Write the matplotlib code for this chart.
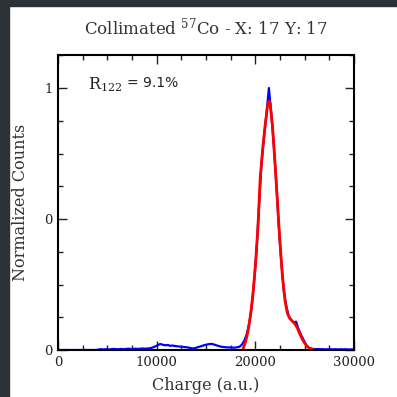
import matplotlib
matplotlib.use('Agg')
import matplotlib.pyplot as plt
from matplotlib.patches import Rectangle
from matplotlib.ticker import MultipleLocator, FormatStrFormatter
import numpy as np

# measured spectrum, 250 a.u. bins (bin centres)
bin_width = 250
charge = np.arange(125, 30000, bin_width)
counts = [
    0.0, 0.0, 0.0, 0.0, 0.0, 0.0, 0.0, 0.0,                      # 0 - 2000
    0.0, 0.0, 0.0, 0.0, 0.0, 0.0, 0.0, 0.0,                      # 2000 - 4000
    0.002, 0.003, 0.002, 0.003, 0.002, 0.003, 0.004, 0.003,      # 4000 - 6000
    0.003, 0.004, 0.003, 0.004, 0.005, 0.004, 0.004, 0.005,      # 6000 - 8000
    0.004, 0.005, 0.006, 0.005, 0.006, 0.007, 0.010, 0.014,      # 8000 - 10000
    0.019, 0.023, 0.020, 0.018, 0.019, 0.016, 0.017, 0.015,      # 10000 - 12000
    0.014, 0.013, 0.012, 0.011, 0.010, 0.008, 0.006, 0.007,      # 12000 - 14000
    0.010, 0.013, 0.016, 0.019, 0.021, 0.023, 0.023, 0.020,      # 14000 - 16000
    0.017, 0.014, 0.012, 0.011, 0.010, 0.010, 0.009, 0.009,      # 16000 - 18000
    0.010, 0.012, 0.020, 0.035, 0.060, 0.100, 0.160, 0.260,      # 18000 - 20000
    0.380, 0.550, 0.710, 0.810, 0.900, 1.000, 0.900, 0.780,      # 20000 - 22000
    0.640, 0.470, 0.340, 0.230, 0.170, 0.130, 0.115, 0.105,      # 22000 - 24000
    0.108, 0.080, 0.058, 0.040, 0.020, 0.010, 0.006, 0.004,      # 24000 - 26000
    0.003, 0.004, 0.003, 0.003, 0.002, 0.003, 0.003, 0.002,      # 26000 - 28000
    0.003, 0.002, 0.003, 0.002, 0.003, 0.002, 0.002, 0.002,      # 28000 - 30000
]

# fitted photopeak
fit_charge = [18750, 19000, 19250, 19500, 19750, 20000, 20250, 20500, 20750,
              21000, 21250, 21400, 21500, 21750, 22000, 22250, 22500, 22750,
              23000, 23250, 23500, 23750, 24000, 24250, 24500, 24750, 25000,
              25250, 25500, 25750, 26000]
fit_counts = [0.004, 0.03, 0.07, 0.13, 0.21, 0.32, 0.46, 0.66, 0.77,
              0.86, 0.935, 0.95, 0.94, 0.85, 0.71, 0.56, 0.41, 0.28,
              0.19, 0.14, 0.12, 0.11, 0.10, 0.085, 0.062, 0.042, 0.026,
              0.014, 0.006, 0.002, 0.0]

resolution = 9.1

plt.rcParams['font.family'] = 'DejaVu Serif'
plt.rcParams['mathtext.fontset'] = 'dejavuserif'

fig = plt.figure(figsize=(3.97, 3.97), dpi=100)
ax = fig.add_axes([58 / 397., 1 - 350 / 397., 296 / 397., 295 / 397.])

ax.plot(charge, counts, c='#0000ff', lw=1.6)
ax.plot(fit_charge, fit_counts, c='#ff0000', lw=2.0)

ax.set_xlim(0, 30000)
ax.set_ylim(0, 1.126)
ax.xaxis.set_major_locator(MultipleLocator(10000))
ax.xaxis.set_minor_locator(MultipleLocator(2500))
ax.yaxis.set_major_locator(MultipleLocator(0.5))
ax.yaxis.set_minor_locator(MultipleLocator(0.125))
ax.yaxis.set_major_formatter(FormatStrFormatter('%d'))
ax.tick_params(which='both', direction='in', top=True, right=True,
               labelsize=9.5, color='#222222', labelcolor='#222222')
ax.tick_params(which='major', length=6.5, width=1.0, pad=4)
ax.tick_params(which='minor', length=3.5, width=1.0)
for s in ax.spines.values():
    s.set_linewidth(1.5)

ax.set_xlabel('Charge (a.u.)', fontsize=11.5, color='#333333', labelpad=6)
ax.set_ylabel('Normalized Counts', fontsize=11.5, color='#333333', labelpad=11)
ax.set_title('Collimated $^{57}$Co - X: 17 Y: 17', fontsize=12, color='#333333', pad=15)
ax.text(0.1, 0.9, r'$\mathrm{R_{122}}$', transform=ax.transAxes,
        fontsize=11.5, va='center', ha='left', color='#222222')
ax.text(0.234, 0.905, '= %.1f%%' % resolution, transform=ax.transAxes,
        fontsize=10, va='center', ha='left', family='DejaVu Sans', color='#222222')

# dark frame strips from the screenshot
fig.patches.append(Rectangle((0, 1 - 6 / 397.), 1, 6 / 397., transform=fig.transFigure,
                             color='#2d3236', zorder=10))
fig.patches.append(Rectangle((0, 0), 8.5 / 397., 1, transform=fig.transFigure,
                             color='#2d3236', zorder=10))

fig.savefig('out.png', dpi=100)
